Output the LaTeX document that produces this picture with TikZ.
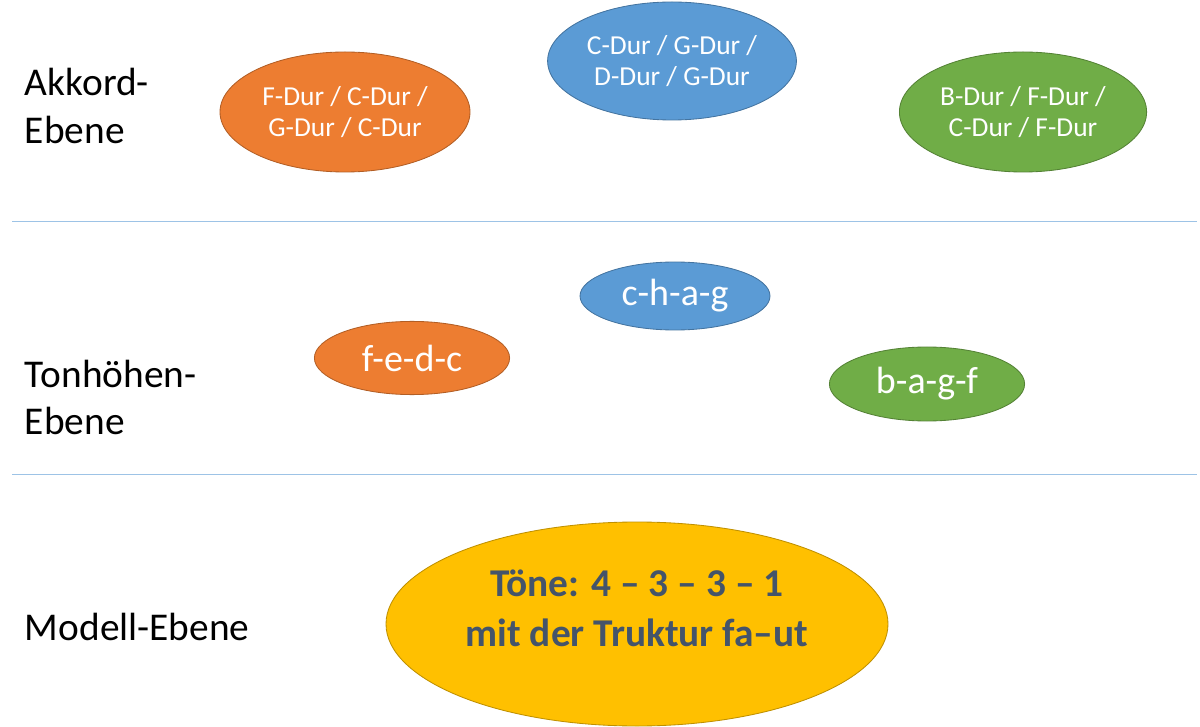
\documentclass[tikz,border=0pt]{standalone}
\usepackage{fontspec}
\setmainfont{Carlito}
\usepackage{tikz}
\usetikzlibrary{shapes.geometric}
\usepackage{xcolor}
\definecolor{akzorange}{RGB}{237,125,49}
\definecolor{akzblue}{RGB}{91,155,213}
\definecolor{akzgreen}{RGB}{112,173,71}
\definecolor{akzgold}{RGB}{255,192,0}
\definecolor{slate}{RGB}{68,84,106}
\definecolor{rule}{RGB}{157,195,230}

\begin{document}
\begin{tikzpicture}[
  blob/.style={ellipse, draw, line width=0.6pt, inner sep=0pt, align=center, text=white},
  chord/.style={blob, font=\fontsize{19.5}{22.5}\selectfont},
  pitch/.style={blob, font=\fontsize{27}{30}\selectfont},
  level/.style={anchor=west, align=left, font=\fontsize{28}{33.5}\selectfont},
  sep/.style={draw=rule, line width=0.6pt},
]
\useasboundingbox (0,0) rectangle (30,18.15);

% Akkord-Ebene
\node[level] (l1) at (0.5,15.5) {Akkord-\\Ebene};
\node[chord, fill=akzorange, draw=akzorange!75!black, minimum width=6.25cm, minimum height=3.0cm]
  (a1) at (8.625,15.35) {F-Dur / C-Dur /\\G-Dur / C-Dur};
\node[chord, fill=akzblue, draw=akzblue!75!black, minimum width=6.22cm, minimum height=2.95cm]
  (a2) at (16.8,16.625) {C-Dur / G-Dur /\\D-Dur / G-Dur};
\node[chord, fill=akzgreen, draw=akzgreen!75!black, minimum width=6.18cm, minimum height=3.0cm]
  (a3) at (25.575,15.35) {B-Dur / F-Dur /\\C-Dur / F-Dur};

\coordinate (s1w) at (0.3,12.625);
\coordinate (s1e) at (29.925,12.625);
\draw[sep] (s1w) -- (s1e);

% Tonhoehen-Ebene
\node[level] (l2) at (0.5,8.22) {Tonhöhen-\\Ebene};
\node[pitch, fill=akzblue, draw=akzblue!75!black, minimum width=4.75cm, minimum height=1.7cm]
  (t2) at (16.875,10.75) {c-h-a-g};
\node[pitch, fill=akzorange, draw=akzorange!75!black, minimum width=4.88cm, minimum height=1.83cm]
  (t1) at (10.3,9.2) {f-e-d-c};
\node[pitch, fill=akzgreen, draw=akzgreen!75!black, minimum width=4.88cm, minimum height=1.85cm]
  (t3) at (23.175,8.55) {b-a-g-f};

\coordinate (s2w) at (0.3,6.3);
\coordinate (s2e) at (29.925,6.3);
\draw[sep] (s2w) -- (s2e);

% Modell-Ebene
\node[level] (l3) at (0.5,2.48) {Modell-Ebene};
\node[blob, fill=akzgold, draw=akzgold!75!black, minimum width=12.55cm, minimum height=5.1cm]
  (m) at (15.925,2.55) {};
\node[align=center, text=slate, font=\fontsize{28}{35.5}\selectfont\bfseries]
  (mt) at ([yshift=0.4cm]m.center) {Töne: 4 – 3 – 3 – 1\\mit der Truktur fa–ut};
\end{tikzpicture}
\end{document}
